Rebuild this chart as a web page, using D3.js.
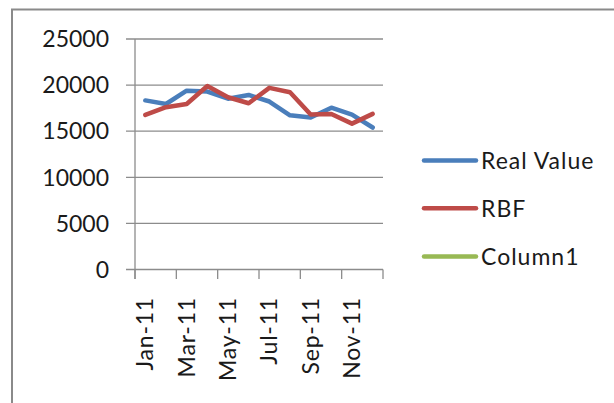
<!DOCTYPE html>
<html><head><meta charset="utf-8">
<script src="https://cdn.jsdelivr.net/npm/d3@7"></script>
<style>html,body{margin:0;padding:0;background:#fff;overflow:hidden}</style>
</head><body>
<svg id="c" width="614" height="403"></svg>
<script>
const months = ["Jan-11","Feb-11","Mar-11","Apr-11","May-11","Jun-11","Jul-11","Aug-11","Sep-11","Oct-11","Nov-11","Dec-11"];
const realValue = [18340,17950,19400,19300,18520,18930,18220,16720,16480,17550,16800,15400];
const rbf = [16760,17600,17950,19900,18680,18030,19700,19220,16820,16870,15820,16880];
const column1 = [];
const yTicks = [0,5000,10000,15000,20000,25000];
const seriesNames = ["Real Value","RBF","Column1"];
const seriesColors = ["#4A7EBB","#BE4B48","#98B954"];

const svg = d3.select("#c");
const font = "Lato, 'Open Sans', sans-serif";
const gridColor = "#8c8c8c";

// outer frame
svg.append("rect").attr("x",12).attr("y",9.5).attr("width",640).attr("height",420)
  .attr("fill","none").attr("stroke","#8a8a8a").attr("stroke-width",2);

const x = d3.scaleLinear().domain([0, months.length]).range([135, 383]);
const y = d3.scaleLinear().domain([0, 25000]).range([269.5, 39]);

// gridlines & y labels
yTicks.forEach(t => {
  svg.append("line").attr("x1",126).attr("x2",383).attr("y1",y(t)).attr("y2",y(t))
    .attr("stroke",gridColor).attr("stroke-width",1.3);
  svg.append("text").attr("x",109).attr("y",y(t)).attr("dy","0.36em")
    .attr("text-anchor","end").attr("font-family",font).attr("font-size",23)
    .attr("fill","#1a1a1a").text(t);
});
// y axis line
svg.append("line").attr("x1",x(0)).attr("x2",x(0)).attr("y1",y(25000)).attr("y2",279)
  .attr("stroke",gridColor).attr("stroke-width",1.3);
// x ticks
d3.range(0, months.length + 1, 2).forEach(i => {
  svg.append("line").attr("x1",x(i)).attr("x2",x(i)).attr("y1",y(0)).attr("y2",279)
    .attr("stroke",gridColor).attr("stroke-width",1.3);
});
// x labels
months.forEach((m,i) => {
  if (i % 2 !== 0) return;
  const cx = x(i + 0.5);
  svg.append("text").attr("transform",`translate(${cx + 8},297) rotate(-90)`)
    .attr("text-anchor","end").attr("font-family",font).attr("font-size",23)
    .attr("letter-spacing","0.8px")
    .attr("fill","#1a1a1a").text(m);
});

const line = d3.line().x((d,i) => x(i + 0.5)).y(d => y(d));
[realValue, rbf, column1].forEach((s,k) => {
  if (!s.length) return;
  svg.append("path").attr("d", line(s)).attr("fill","none")
    .attr("stroke", seriesColors[k]).attr("stroke-width",4.5)
    .attr("stroke-linejoin","round").attr("stroke-linecap","round");
});

// legend
const legY = [160.5, 208.3, 256.5];
seriesNames.forEach((n,k) => {
  svg.append("line").attr("x1",424).attr("x2",476).attr("y1",legY[k]).attr("y2",legY[k])
    .attr("stroke",seriesColors[k]).attr("stroke-width",4.5).attr("stroke-linecap","round");
  svg.append("text").attr("x",481).attr("y",legY[k]).attr("dy","0.36em")
    .attr("font-family",font).attr("font-size",23).attr("letter-spacing","1px")
    .attr("fill","#1a1a1a").text(n);
});
</script>
</body></html>
